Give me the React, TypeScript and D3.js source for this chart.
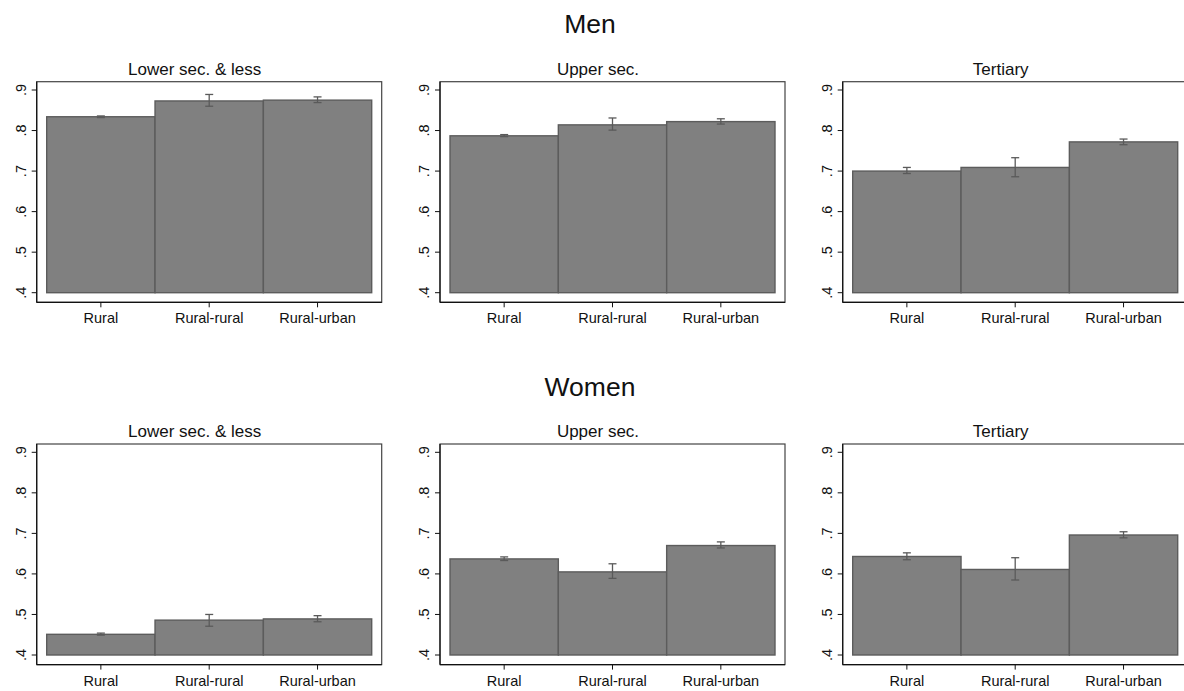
import * as d3 from "d3";

const categories = ["Rural", "Rural-rural", "Rural-urban"];
const educations = ["Lower sec. & less", "Upper sec.", "Tertiary"];
const genders = ["Men", "Women"];
const yTicks = [0.4, 0.5, 0.6, 0.7, 0.8, 0.9];

// mean, lower CI, upper CI per education level (rows: Men, Women)
const menMeans = [
  [0.834, 0.873, 0.875],
  [0.787, 0.814, 0.822],
  [0.7, 0.709, 0.772],
];
const menLo = [
  [0.832, 0.86, 0.869],
  [0.785, 0.801, 0.816],
  [0.694, 0.686, 0.765],
];
const menHi = [
  [0.836, 0.889, 0.883],
  [0.79, 0.831, 0.829],
  [0.709, 0.733, 0.779],
];
const womenMeans = [
  [0.451, 0.486, 0.489],
  [0.637, 0.605, 0.67],
  [0.643, 0.611, 0.696],
];
const womenLo = [
  [0.449, 0.471, 0.482],
  [0.633, 0.589, 0.664],
  [0.635, 0.585, 0.689],
];
const womenHi = [
  [0.454, 0.5, 0.497],
  [0.642, 0.625, 0.679],
  [0.652, 0.64, 0.704],
];

const W = 1184;
const H = 691;
const FONT = "'Liberation Sans', Arial, Helvetica, sans-serif";
const panelLefts = [36.7, 440, 842.7];
const panelW = 345;
const rowTops = [81.7, 444];
const panelH = 220.6;

function Panel({ left, top, title, means, lo, hi }: any) {
  const right = left + panelW;
  const bottom = top + panelH;
  const x = d3.scaleBand<string>().domain(categories).range([left + 10, right - 10]).padding(0);
  const y = d3.scaleLinear().domain([0.4, 0.9]).range([bottom - 9.6, top + 8.3]);
  const capW = 4;
  return (
    <g>
      <text x={left + panelW / 2 - 14.5} y={top - 7} textAnchor="middle" fontSize={17} fontFamily={FONT} fill="#111">
        {title}
      </text>
      <rect x={left} y={top} width={panelW} height={panelH} fill="#fff" stroke="#444" strokeWidth={1.2} />
      {categories.map((c, i) => (
        <rect
          key={c}
          x={x(c)!}
          y={y(means[i])}
          width={x.bandwidth()}
          height={y(0.4) - y(means[i])}
          fill="#808080"
          stroke="#5c5c5c"
          strokeWidth={1.4}
        />
      ))}
      {categories.map((c, i) => {
        const cx = x(c)! + x.bandwidth() / 2;
        return (
          <g key={"e" + c} stroke="#5a5a5a" strokeWidth={1.3}>
            <line x1={cx} x2={cx} y1={y(lo[i])} y2={y(hi[i])} />
            <line x1={cx - capW} x2={cx + capW} y1={y(lo[i])} y2={y(lo[i])} />
            <line x1={cx - capW} x2={cx + capW} y1={y(hi[i])} y2={y(hi[i])} />
          </g>
        );
      })}
      <line x1={left} x2={left} y1={top} y2={bottom} stroke="#111" strokeWidth={1.2} />
      <line x1={left} x2={right} y1={bottom} y2={bottom} stroke="#111" strokeWidth={1.2} />
      {yTicks.map((t) => (
        <g key={t}>
          <line x1={left - 5} x2={left} y1={y(t)} y2={y(t)} stroke="#111" strokeWidth={1} />
          <text
            transform={`translate(${left - 11},${y(t)}) rotate(-90)`}
            textAnchor="middle"
            fontSize={14.5}
            fontFamily={FONT}
            fill="#111"
          >
            {d3.format(".1f")(t).replace(/^0/, "")}
          </text>
        </g>
      ))}
      {categories.map((c) => {
        const cx = x(c)! + x.bandwidth() / 2;
        return (
          <g key={"t" + c}>
            <line x1={cx} x2={cx} y1={bottom} y2={bottom + 5} stroke="#111" strokeWidth={1} />
            <text x={cx} y={bottom + 21} textAnchor="middle" fontSize={14.5} fontFamily={FONT} fill="#111">
              {c}
            </text>
          </g>
        );
      })}
    </g>
  );
}

export default function App() {
  const rows = [
    { means: menMeans, lo: menLo, hi: menHi },
    { means: womenMeans, lo: womenLo, hi: womenHi },
  ];
  return (
    <svg
      width={W}
      height={H}
      style={{ position: "absolute", left: 0, top: 0, background: "#fff" }}
    >
      <rect width={W} height={H} fill="#fff" />
      {genders.map((g, r) => (
        <g key={g}>
          <text x={590} y={rowTops[r] - 48.5} textAnchor="middle" fontSize={26.5} fontFamily={FONT} fill="#111">
            {g}
          </text>
          {educations.map((e, k) => (
            <Panel
              key={e}
              left={panelLefts[k]}
              top={rowTops[r]}
              title={e}
              means={rows[r].means[k]}
              lo={rows[r].lo[k]}
              hi={rows[r].hi[k]}
            />
          ))}
        </g>
      ))}
    </svg>
  );
}
